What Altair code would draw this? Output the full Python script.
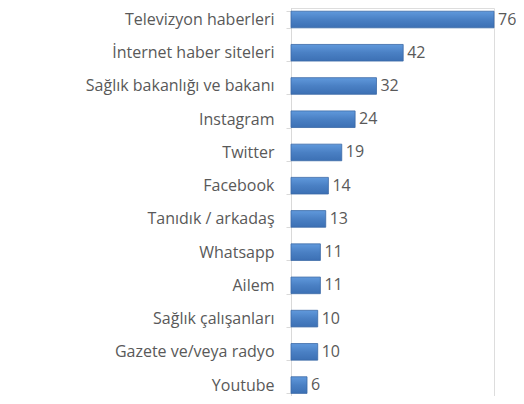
import altair as alt
import pandas as pd

categories = [
    "Televizyon haberleri",
    "İnternet haber siteleri",
    "Sağlık bakanlığı ve bakanı",
    "Instagram",
    "Twitter",
    "Facebook",
    "Tanıdık / arkadaş",
    "Whatsapp",
    "Ailem",
    "Sağlık çalışanları",
    "Gazete ve/veya radyo",
    "Youtube",
]
values = [76, 42, 32, 24, 19, 14, 13, 11, 11, 10, 10, 6]

df = pd.DataFrame({"kaynak": categories, "deger": values})

FONT = "Open Sans"
GRAY = "#595959"

y_enc = alt.Y(
    "kaynak:N",
    sort=categories,
    title=None,
    scale=alt.Scale(range=[-5.1, 393.7], paddingInner=0.5, paddingOuter=0.25),
    axis=alt.Axis(
        labelFont=FONT,
        labelFontSize=16,
        labelColor=GRAY,
        labelPadding=12,
        tickBand="extent",
        tickSize=5,
        tickColor="#d9d9d9",
        domainColor="#d9d9d9",
        labelLimit=400,
    ),
)
x_enc = alt.X(
    "deger:Q",
    title=None,
    axis=None,
    scale=alt.Scale(domain=[0, 76], range=[0, 203], nice=False, zero=True),
)

bars = alt.Chart(df).mark_bar(
    color=alt.Gradient(
        gradient="linear",
        stops=[
            alt.GradientStop(color="#6099dc", offset=0),
            alt.GradientStop(color="#4a80c4", offset=0.5),
            alt.GradientStop(color="#3c70b4", offset=1),
        ],
        x1=0, x2=0, y1=0, y2=1,
    ),
    stroke="#3a68a6",
    strokeWidth=0.8,
).encode(y=y_enc, x=x_enc)

labels = alt.Chart(df).mark_text(
    align="left", baseline="middle", dx=4, font=FONT, fontSize=16, color=GRAY
).encode(y=y_enc, x=x_enc, text="deger:Q")

chart = (
    alt.layer(bars, labels)
    .properties(
        width=203,
        height=388,
        autosize=alt.AutoSizeParams(type="none"),
        padding={"left": 283, "top": 0, "right": 22, "bottom": 0},
    )
    .configure_view(strokeWidth=0, stroke="transparent")
    .configure(background="white")
)

chart.save("out.html", embed_options={"renderer": "svg", "actions": False})
